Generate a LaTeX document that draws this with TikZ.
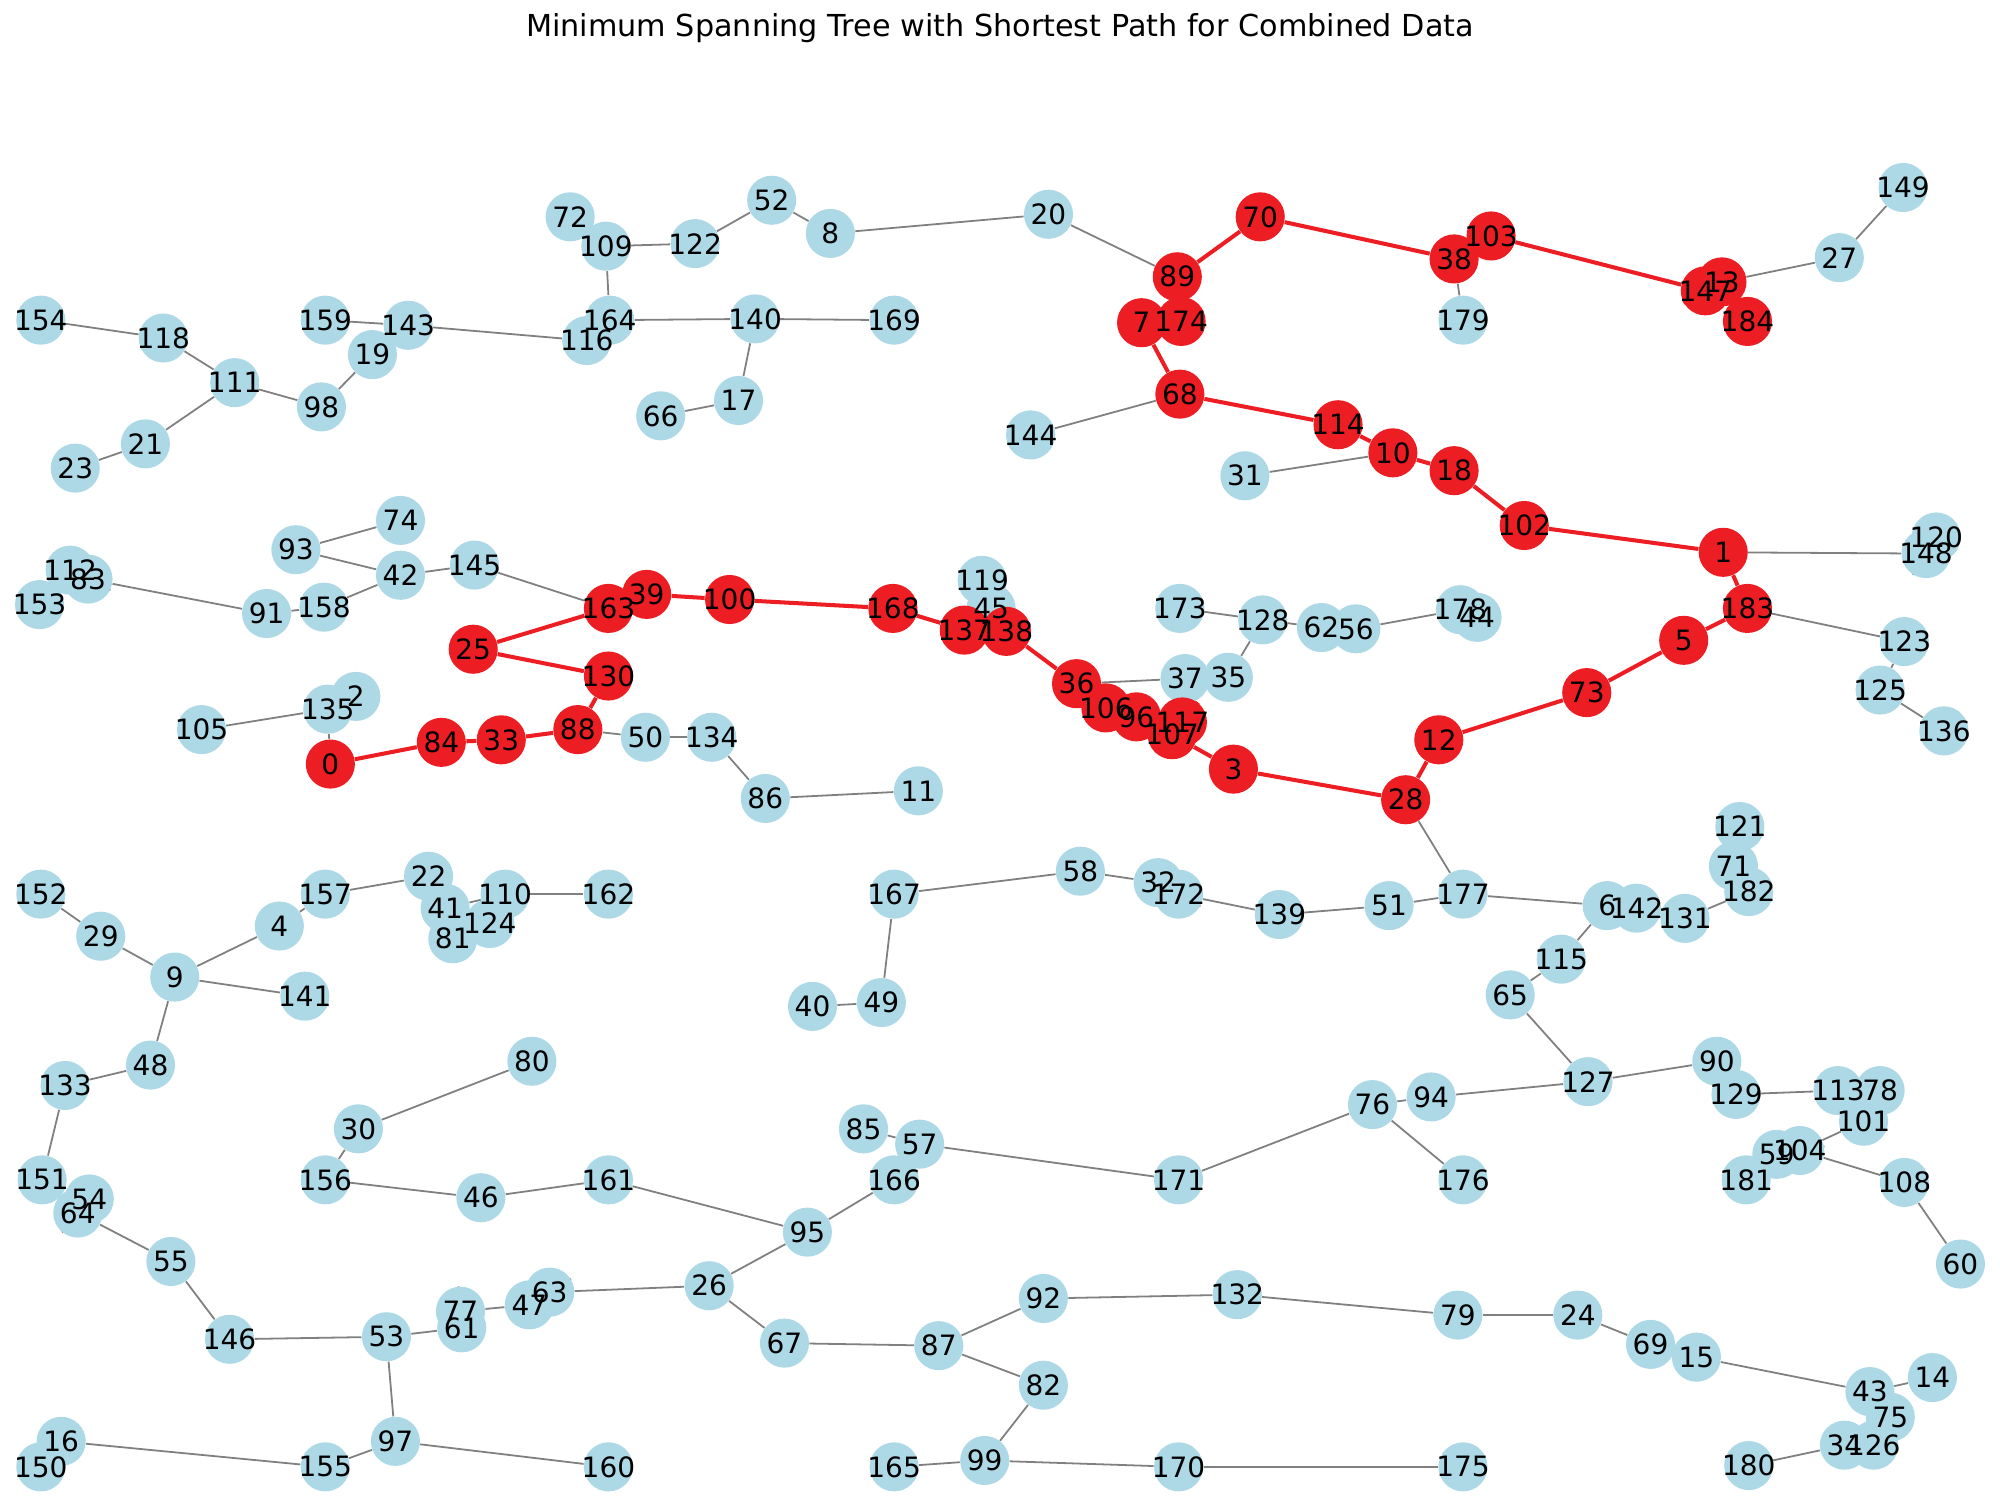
\documentclass[tikz,border=0pt]{standalone}
\usepackage{fontspec}
\setmainfont{DejaVu Sans}
\pgfdeclarelayer{gelayer}
\pgfdeclarelayer{bnlayer}
\pgfdeclarelayer{relayer}
\pgfdeclarelayer{rnlayer}
\pgfsetlayers{gelayer,bnlayer,relayer,rnlayer,main}
\definecolor{nodeblue}{RGB}{173,216,230}
\definecolor{pathred}{RGB}{236,30,36}
\definecolor{edgegray}{RGB}{128,128,128}
\begin{document}
\begin{tikzpicture}[x=0.02cm,y=-0.02cm,
  bnode/.style={circle,fill=nodeblue,inner sep=0pt,minimum size=0.77cm},
  rnode/.style={circle,fill=pathred,inner sep=0pt,minimum size=0.77cm},
  lbl/.style={inner sep=0pt,font=\fontsize{12.5}{13}\selectfont},
  gedge/.style={draw=edgegray,line width=0.8pt},
  redge/.style={draw=pathred,line width=1.8pt}]
\useasboundingbox (0,0) rectangle (1568,1183);
\node[inner sep=0pt,font=\fontsize{13.5}{14}\selectfont] (title) at (784,22) {Minimum Spanning Tree with Shortest Path for Combined Data};

\begin{pgfonlayer}{bnlayer}
\foreach \n/\x/\y in {
 2/279/546, 4/219/726, 6/1260/710, 8/651/183, 9/137/766, 11/720/620,
 14/1515/1080, 15/1330/1064, 16/48/1130, 17/579/314, 19/292/278, 20/822/168,
 21/114/348, 22/336/687, 23/59/367, 24/1237/1031, 26/556/1008, 27/1442/202,
 29/79/734, 30/281/885, 31/976/373, 32/908/692, 34/1446/1133, 35/963/531,
 37/929/532, 40/637/789, 41/349/712, 42/314/451, 43/1466/1091, 44/1158/484,
 45/777/477, 46/377/939, 47/415/1023, 48/118/835, 49/691/786, 50/506/578,
 51/1089/710, 52/605/157, 53/303/1048, 54/70/940, 55/134/989, 56/1063/493,
 57/721/897, 58/847/683, 59/1393/905, 60/1537/991, 61/362/1041, 62/1036/492,
 63/431/1013, 64/61/951, 65/1184/780, 66/518/326, 67/615/1053, 69/1294/1054,
 71/1359/679, 72/447/170, 74/314/408, 75/1482/1111, 76/1076/866, 77/361/1028,
 78/1474/855, 79/1143/1031, 80/417/832, 81/355/736, 82/818/1086, 83/69/454,
 85/677/885, 86/600/626, 87/736/1055, 90/1346/832, 91/209/481, 92/818/1018,
 93/232/431, 94/1122/860, 95/633/966, 97/310/1130, 98/252/319, 99/772/1145,
 101/1461/879, 104/1411/902, 105/158/572, 108/1493/927, 109/475/193, 110/396/701,
 111/184/300, 112/55/447, 113/1441/855, 115/1224/752, 116/460/267, 118/128/265,
 119/770/455, 120/1518/421, 121/1364/648, 122/545/191, 123/1493/503, 124/384/724,
 125/1474/541, 126/1469/1133, 127/1245/848, 128/990/486, 129/1361/858, 131/1321/720,
 132/970/1015, 133/51/851, 134/558/578, 135/257/556, 136/1524/573, 139/1003/717,
 140/592/250, 141/239/781, 142/1283/712, 143/320/255, 144/808/341, 145/372/443,
 146/180/1050, 148/1510/434, 149/1492/147, 150/32/1150, 151/33/925, 152/32/701,
 153/31/474, 154/32/251, 155/255/1150, 156/255/925, 157/255/701, 158/254/476,
 159/255/251, 160/477/1150, 161/477/925, 162/477/701, 164/478/251, 165/701/1150,
 166/701/925, 167/701/701, 169/701/251, 170/924/1150, 171/924/925, 172/924/701,
 173/925/477, 175/1147/1150, 176/1147/925, 177/1147/701, 178/1145/478, 179/1147/251,
 180/1371/1149, 181/1369/925, 182/1371/699}
 \node[bnode] (v\n) at (\x,\y) {};
\end{pgfonlayer}

\begin{pgfonlayer}{rnlayer}
\foreach \n/\x/\y in {
 0/259/599, 84/346/582, 33/393/580, 88/453/572, 130/477/530, 25/371/509,
 163/477/477, 39/507/466, 100/572/470, 168/700/477, 137/756/494, 138/789/495,
 36/844/536, 106/867/555, 96/891/562, 117/927/566, 107/919/576, 3/967/603,
 28/1102/627, 12/1128/580, 73/1244/543, 5/1320/502, 183/1370/477, 1/1351/433,
 102/1195/412, 18/1140/369, 10/1092/355, 114/1049/333, 68/925/309, 7/895/253,
 174/926/252, 89/923/217, 70/988/170, 38/1140/203, 103/1169/185, 147/1337/228,
 13/1350/221, 184/1370/252}
 \node[rnode] (v\n) at (\x,\y) {};
\end{pgfonlayer}

\begin{pgfonlayer}{gelayer}
\foreach \a/\b in {
 149/27, 27/13, 20/89, 20/8, 8/52, 52/122, 122/109, 109/72, 109/164, 164/116,
 116/143, 143/159, 143/19, 19/98, 98/111, 111/118, 118/154, 111/21, 21/23,
 164/140, 140/169, 140/17, 17/66, 38/179, 68/144, 10/31, 1/148, 148/120,
 183/123, 123/125, 125/136, 28/177, 93/74, 93/42, 42/158, 158/91, 91/83,
 83/112, 112/153, 42/145, 145/163, 45/119, 45/138, 36/37, 37/35, 35/128,
 128/173, 128/62, 62/56, 56/178, 178/44, 135/105, 135/2, 135/0, 88/50,
 50/134, 134/86, 86/11, 177/51, 51/139, 139/172, 172/32, 32/58, 58/167,
 167/49, 49/40, 177/6, 6/142, 142/131, 131/182, 182/71, 71/121, 6/115,
 115/65, 65/127, 127/94, 94/76, 76/176, 76/171, 171/57, 57/85, 57/166,
 166/95, 95/161, 161/46, 46/156, 156/30, 30/80, 95/26, 26/67, 26/63,
 63/47, 47/77, 77/61, 61/53, 53/146, 146/55, 55/64, 64/54, 53/97, 97/155,
 155/16, 16/150, 97/160, 67/87, 87/92, 87/82, 82/99, 99/165, 99/170,
 170/175, 92/132, 132/79, 79/24, 24/69, 69/15, 15/43, 43/14, 43/75,
 75/126, 126/34, 34/180, 127/90, 90/129, 129/113, 113/78, 78/101, 101/104,
 104/59, 59/181, 104/108, 108/60, 152/29, 29/9, 9/4, 4/157, 157/22, 22/41,
 41/110, 110/162, 41/81, 81/124, 9/141, 9/48, 48/133, 133/151}
 \draw[gedge] (v\a) -- (v\b);
\end{pgfonlayer}

\begin{pgfonlayer}{relayer}
\foreach \a/\b in {
 0/84, 84/33, 33/88, 88/130, 130/25, 25/163, 163/39, 39/100, 100/168,
 168/137, 137/138, 138/36, 36/106, 106/96, 96/117, 117/107, 107/3, 3/28,
 28/12, 12/73, 73/5, 5/183, 183/1, 1/102, 102/18, 18/10, 10/114, 114/68,
 68/7, 7/174, 174/89, 89/70, 70/38, 38/103, 103/147, 147/13, 13/184}
 \draw[redge] (v\a) -- (v\b);
\end{pgfonlayer}

\foreach \n in {0,...,184}
 \node[lbl] (t\n) at (v\n) {\n};
\end{tikzpicture}
\end{document}
